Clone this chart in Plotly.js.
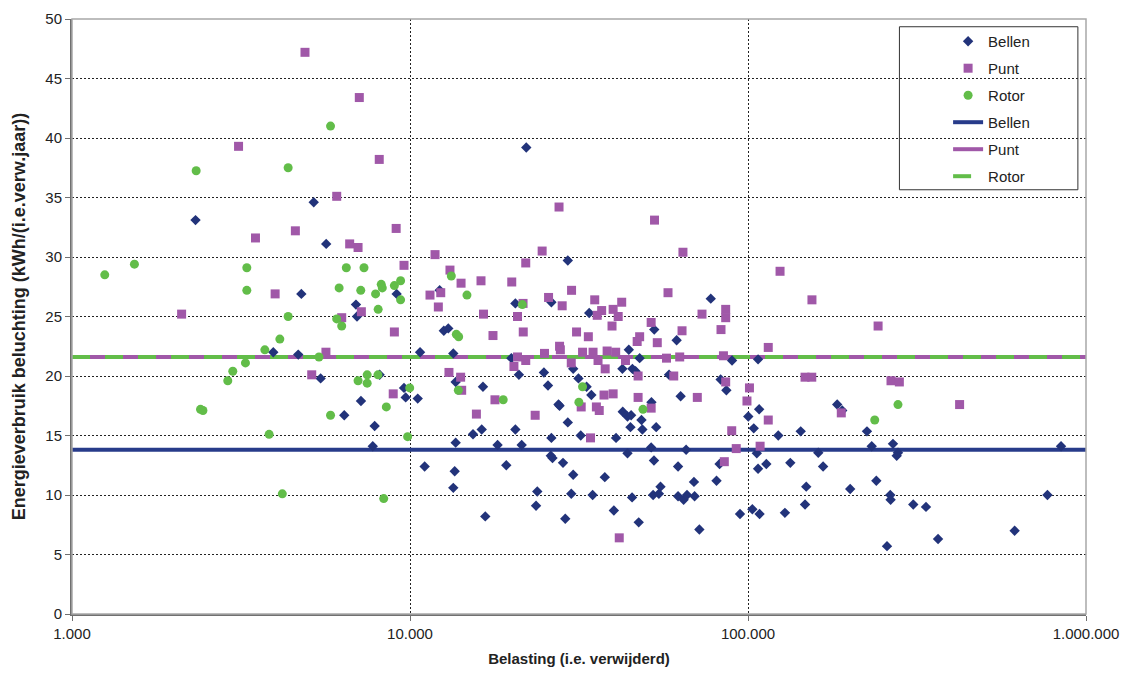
<!DOCTYPE html>
<html>
<head>
<meta charset="utf-8">
<script src="https://cdn.plot.ly/plotly-3.0.1.min.js"></script>
<style>html,body{margin:0;padding:0;background:#fff;}#chart{width:1130px;height:675px;}</style>
</head>
<body>
<div id="chart"></div>
<script>
// ---- data ----
const bellenX = [2320,5190,5650,4770,9130,6920,6970,3940,4670,5440,8130,9600,9710,7160,6390,7860,7760,10540,22080,29300,12240,20500,26200,33900,77600,12590,12980,52800,61500,10710,13430,19950,21000,24900,30400,31500,42500,44400,45500,46500,47800,58400,89700,83000,86300,100200,104000,13650,16440,33300,34400,51800,63200,27500,27700,29300,42600,44000,45100,48400,48700,44900,53500,15360,16300,20500,13650,18160,21400,26200,32000,40700,51700,65600,44000,26100,26400,52700,11050,13560,19270,28360,30400,37700,62100,82400,13430,23800,30000,34700,45400,52400,54500,55100,69200,80700,62100,64500,66000,69500,23600,40100,16700,28800,47500,71800,94700,103000,25600,107100,107900,183600,190000,122900,143200,224900,106200,161400,232300,268500,275400,277800,843700,107100,113300,133400,166800,148700,200600,239700,263600,264200,147500,308300,336200,769000,108200,128600,615000,365000,257800];
const bellenY = [33.1,34.6,31.1,26.9,26.9,26.0,25.0,22.0,21.8,19.8,20.1,19.0,18.2,17.9,16.7,15.8,14.1,18.1,39.2,29.7,27.2,26.1,26.2,25.3,26.5,23.8,24.0,23.9,23.0,22.0,21.9,21.5,20.1,20.3,20.6,19.8,20.6,22.2,20.6,20.4,21.5,20.1,21.3,19.7,18.8,16.6,15.6,19.5,19.1,19.1,18.4,17.8,18.3,17.6,17.5,16.1,17.0,16.6,16.7,16.3,15.5,15.7,15.7,15.1,15.5,15.5,14.4,14.2,14.2,14.8,15.0,14.8,14.0,13.8,13.5,13.3,13.1,12.9,12.4,12.0,12.5,12.7,11.7,11.5,12.4,12.6,10.6,10.3,10.1,10.0,9.8,10.0,10.1,10.7,11.1,11.2,9.9,9.6,10.0,9.9,9.1,8.7,8.2,8.0,7.7,7.1,8.4,8.8,19.2,21.4,17.2,17.6,17.1,15.0,15.35,15.35,13.5,13.55,14.1,14.3,13.3,13.55,14.1,12.2,12.6,12.7,12.4,10.7,10.5,11.2,10.0,9.6,9.2,9.2,9.0,10.0,8.4,8.5,7.0,6.3,5.7];

const puntX = [4890,7080,3110,8110,6070,3490,4580,6630,7020,9100,9600,3990,7180,2110,6280,8990,5640,5120,8920,27600,52900,11860,24600,64200,22000,13130,14160,16220,20000,11460,12330,12130,30060,57990,85900,73100,21600,25700,28200,35200,42300,36900,39900,16500,20800,35800,41300,85900,17600,21630,31100,33700,39600,51700,47000,47800,53900,63800,83200,20800,22000,25000,27700,27850,32400,34800,38300,40600,36000,30000,20300,37800,43400,47300,57400,62800,60300,84600,85900,101000,99300,13040,14120,14220,17840,15720,23460,32100,37500,39900,35600,36300,47300,51700,70800,34200,85100,92300,89500,41600,242600,114800,147500,154400,264900,280400,114800,188800,422700,108600,124400,154600];
const puntY = [47.2,43.4,39.3,38.2,35.1,31.6,32.2,31.1,30.8,32.4,29.3,26.9,25.4,25.2,24.9,23.7,22.0,20.1,18.5,34.2,33.1,30.2,30.5,30.4,29.5,28.9,27.8,28.0,27.9,26.8,27.0,25.8,27.2,27.0,25.6,25.2,26.1,26.6,25.9,26.4,26.2,25.5,25.6,25.2,25.0,25.1,25.0,24.9,23.4,23.7,23.7,23.3,24.2,24.5,22.9,23.3,22.8,23.8,23.9,21.6,21.3,21.9,22.5,22.2,22.0,22.0,22.1,22.0,21.3,21.1,20.8,20.6,21.3,20.0,21.5,21.6,20.0,21.7,19.5,19.0,17.9,20.3,19.9,18.8,18.0,16.8,16.7,17.4,18.4,18.5,17.4,17.1,18.2,17.3,18.2,14.8,12.8,13.9,15.4,6.4,24.2,22.4,19.9,19.9,19.6,19.5,16.3,16.9,17.6,14.1,28.8,26.4];

const rotorX = [5820,2330,4360,1250,1530,3290,6480,7310,3290,6170,7150,7910,8220,8280,8990,9380,9380,8050,4360,6070,6280,4120,3720,5380,3260,2990,2890,7020,7470,7470,8040,9980,2440,2400,5820,8510,3830,9840,4190,8360,13250,14740,21500,13710,13930,13900,18870,32400,31600,48900,277800,237100];
const rotorY = [41.0,37.25,37.5,28.5,29.4,29.1,29.1,29.1,27.2,27.4,27.2,26.9,27.7,27.4,27.6,28.0,26.4,25.6,25.0,24.8,24.2,23.1,22.2,21.6,21.1,20.4,19.6,19.6,20.1,19.4,20.1,19.0,17.1,17.2,16.7,17.4,15.1,14.9,10.1,9.7,28.4,26.8,26.0,23.5,23.3,18.8,18.0,19.1,17.8,17.2,17.6,16.3];

// average lines
const lineX = [1000, 1000000];
const bellenAvg = [13.8, 13.8];
const puntAvg = [21.6, 21.6];
const rotorAvg = [21.6, 21.6];

// ticks
const xTickVals = [1000, 10000, 100000, 1000000];
const xTickText = ['1.000', '10.000', '100.000', '1.000.000'];
const yTickVals = [0, 5, 10, 15, 20, 25, 30, 35, 40, 45, 50];

const cBellen = '#22337A';
const cBellenLine = '#273B8A';
const cPunt = '#A058A8';
const cRotor = '#62BD49';
const FONT = 'Liberation Sans, Arial, sans-serif';

const traces = [
  {x: lineX, y: bellenAvg, mode: 'lines', name: 'Bellen', legendgroup: 'g4', legendrank: 4,
   line: {color: cBellenLine, width: 4}, hoverinfo: 'skip'},
  {x: lineX, y: puntAvg, mode: 'lines', name: 'Punt', legendgroup: 'g5', legendrank: 5,
   line: {color: cPunt, width: 4}, hoverinfo: 'skip'},
  {x: lineX, y: rotorAvg, mode: 'lines', name: 'Rotor', legendgroup: 'g6', legendrank: 6,
   line: {color: cRotor, width: 4, dash: '18px,15px'}, hoverinfo: 'skip'},
  {x: bellenX, y: bellenY, mode: 'markers', name: 'Bellen', legendgroup: 'g1', legendrank: 1,
   marker: {symbol: 'diamond', size: 8, color: cBellen}},
  {x: puntX, y: puntY, mode: 'markers', name: 'Punt', legendgroup: 'g2', legendrank: 2,
   marker: {symbol: 'square', size: 9, color: cPunt}},
  {x: rotorX, y: rotorY, mode: 'markers', name: 'Rotor', legendgroup: 'g3', legendrank: 3,
   marker: {symbol: 'circle', size: 9, color: cRotor}}
];

const layout = {
  width: 1130, height: 675,
  margin: {l: 72, r: 44, t: 19, b: 61},
  paper_bgcolor: '#fff', plot_bgcolor: '#fff',
  font: {family: FONT, size: 15, color: '#222'},
  showlegend: true,
  legend: {
    x: 0.864, y: 0.99, xanchor: 'left', yanchor: 'top',
    bgcolor: 'rgba(0,0,0,0)', borderwidth: 0,
    traceorder: 'grouped', tracegroupgap: 4.5,
    font: {family: FONT, size: 15, color: '#222'}
  },
  xaxis: {
    type: 'log', range: [3, 6],
    tickvals: xTickVals, ticktext: xTickText,
    showgrid: true, gridcolor: '#222', gridwidth: 1, griddash: '2px,2px',
    showline: true, linecolor: '#707070', linewidth: 2,
    ticks: 'outside', ticklen: 5, tickcolor: '#707070',
    zeroline: false,
    title: {text: '<b>Belasting (i.e. verwijderd)</b>', font: {family: FONT, size: 15, color: '#222'}, standoff: 12}
  },
  yaxis: {
    range: [0, 50], tickvals: yTickVals,
    showgrid: true, gridcolor: '#222', gridwidth: 1, griddash: '2px,2px',
    showline: true, linecolor: '#707070', linewidth: 2,
    ticks: 'outside', ticklen: 5, tickcolor: '#707070',
    zeroline: false,
    title: {text: '<b>Energieverbruik beluchting (kWh/(i.e.verw.jaar))</b>', font: {family: FONT, size: 18, color: '#222'}, standoff: 15}
  },
  shapes: [
    {type: 'rect', xref: 'paper', yref: 'paper', x0: 0, x1: 1, y0: 0, y1: 1,
     line: {color: '#A8A8A8', width: 1.5}, fillcolor: 'rgba(0,0,0,0)', layer: 'above'},
    {type: 'rect', xref: 'paper', yref: 'paper', x0: 0.816, x1: 0.992, y0: 0.713, y1: 0.987,
     line: {color: '#333', width: 1}, fillcolor: 'rgba(0,0,0,0)', layer: 'above'}
  ]
};

Plotly.newPlot('chart', traces, layout, {displayModeBar: false, staticPlot: true});
</script>
</body>
</html>
